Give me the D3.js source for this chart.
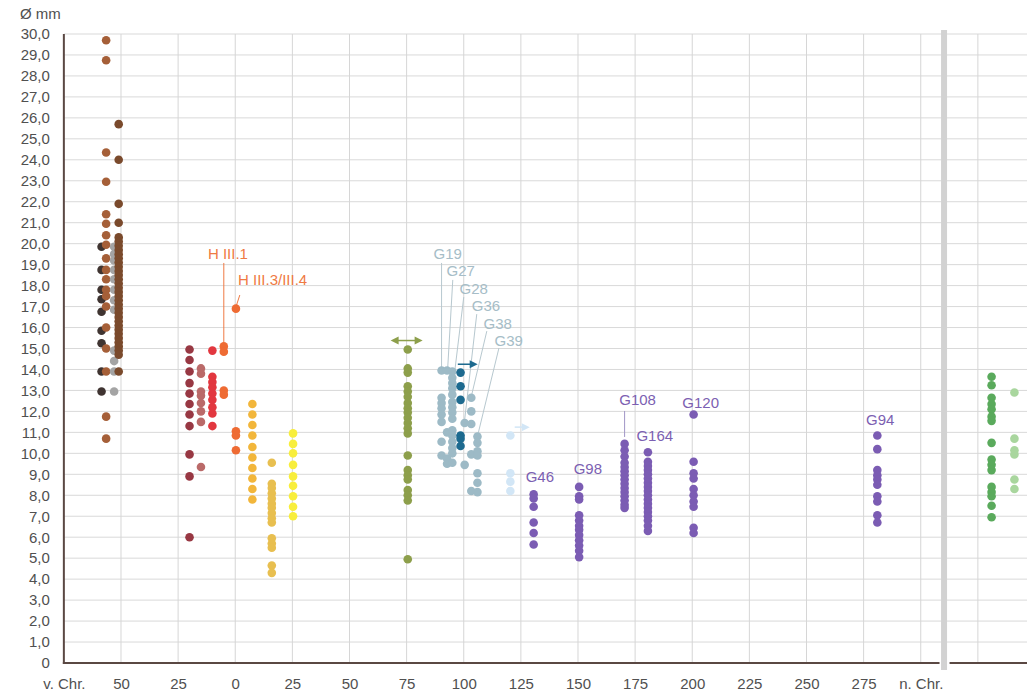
<!DOCTYPE html>
<html>
<head>
<meta charset="utf-8">
<script src="https://cdn.jsdelivr.net/npm/d3@7"></script>
<style>
  html, body { margin: 0; background: #fff; }
  svg { display: block; font-family: "Liberation Sans", Arial, Helvetica, sans-serif; }
</style>
</head>
<body>
<svg id="chart" width="1027" height="694"></svg>
<script>
// ---- Measured diameters (mm), one array per dated find group ----
// Years: negative = v. Chr., positive = n. Chr.
const brownBlack = [19.85, 18.75, 17.8, 17.35, 16.75, 15.85, 15.25, 13.9, 12.95];
const brownPale  = [29.7, 28.75, 24.35, 22.95, 21.4, 20.95, 20.4, 19.95, 19.3, 18.75, 18.3, 17.8, 17.5, 17.0, 16.0, 15.0, 13.9, 11.75, 10.7];
const brownGrey  = [19.85, 19.5, 19.2, 18.75, 18.3, 17.8, 17.3, 16.85, 14.9, 14.4, 13.9, 12.95];
const brownDark  = [25.7, 24.0, 21.9, 21.0, 20.3, 20.1, 19.9, 19.7, 19.5, 19.3, 19.1, 18.9, 18.7, 18.5, 18.3, 18.1, 17.9, 17.7, 17.5, 17.3, 17.1, 16.9, 16.7, 16.5, 16.3, 16.1, 15.9, 15.7, 15.5, 15.3, 15.1, 14.9, 14.7, 13.9];

const redDark    = [14.95, 14.45, 13.9, 13.35, 12.85, 12.35, 11.85, 11.3, 9.95, 8.9, 6.0];
const redPale    = [14.05, 13.8, 12.95, 12.75, 12.4, 12.0, 11.5, 9.35];
const redBright  = [14.9, 13.65, 13.4, 13.15, 12.85, 12.55, 12.2, 11.9, 11.3];
const orangeHIII1 = [15.1, 14.85, 13.0, 12.8];
const orangeHIII3 = [16.9, 11.05, 10.85, 10.15];
const amber      = [12.35, 11.85, 11.35, 10.85, 10.3, 9.8, 9.3, 8.8, 8.3, 7.8];
const mustard    = [9.55, 8.55, 8.35, 8.1, 7.85, 7.6, 7.4, 7.15, 6.9, 6.7, 5.95, 5.7, 5.5, 4.65, 4.3];
const yellow     = [10.95, 10.45, 10.0, 9.45, 8.9, 8.45, 7.95, 7.45, 7.0];

const olive      = [14.95, 14.05, 13.85, 13.2, 12.95, 12.7, 12.4, 12.15, 11.95, 11.7, 11.45, 11.2, 10.95, 9.9, 9.2, 8.95, 8.75, 8.25, 8.0, 7.75, 4.95];

const blueGreyA  = [13.95, 12.65, 12.4, 12.15, 11.85, 11.5, 10.55, 9.9];
const blueGreyB  = [13.95, 11.0, 9.75, 9.5];
const blueGreyC  = [13.9, 13.6, 13.35, 13.1, 12.8, 12.45, 12.2, 11.95, 11.65, 11.1, 10.85, 10.55, 10.25, 10.0, 9.55];
const blueGreyD  = [11.45, 9.45];
const blueGreyE  = [12.65, 12.0, 11.4, 9.95, 8.2];
const blueGreyF  = [10.8, 10.5, 10.1, 9.9, 9.05, 8.6, 8.15];
const blueDark   = [13.85, 13.2, 12.55, 10.85, 10.7, 10.35];
const blueFaint  = [10.85, 9.05, 8.65, 8.2];

const g46  = [8.05, 7.85, 7.45, 6.7, 6.2, 5.65];
const g98  = [8.4, 7.95, 7.8, 7.05, 6.8, 6.55, 6.35, 6.1, 5.85, 5.6, 5.35, 5.05];
const g108 = [10.45, 10.15, 9.85, 9.55, 9.35, 9.15, 8.95, 8.75, 8.55, 8.35, 8.15, 7.95, 7.75, 7.55, 7.4];
const g164 = [10.05, 9.6, 9.4, 9.2, 9.0, 8.8, 8.6, 8.4, 8.2, 8.0, 7.8, 7.6, 7.4, 7.2, 7.0, 6.8, 6.55, 6.3];
const g120 = [11.85, 9.6, 9.05, 8.8, 8.3, 8.0, 7.7, 7.45, 6.45, 6.2];
const g94  = [10.85, 10.2, 9.2, 8.95, 8.75, 8.5, 7.95, 7.7, 7.05, 6.7];

const greenLate  = [13.65, 13.25, 12.65, 12.35, 12.1, 11.75, 11.55, 10.5, 9.7, 9.45, 9.2, 8.4, 8.15, 7.95, 7.5, 6.95];
const greenPale  = [12.9, 10.7, 10.15, 9.95, 8.75, 8.3];

// Dating (year) of each group
const groups = [
  { id: "brownBlack", year: -58.5, values: brownBlack },
  { id: "brownPale",  year: -56.5, values: brownPale },
  { id: "brownGrey",  year: -53,   values: brownGrey },
  { id: "brownDark",  year: -51,   values: brownDark },
  { id: "redDark",    year: -20,   values: redDark },
  { id: "redPale",    year: -15,   values: redPale },
  { id: "redBright",  year: -10,   values: redBright },
  { id: "orange",     year: -5,    values: orangeHIII1 },
  { id: "orange",     year: 0.3,   values: orangeHIII3 },
  { id: "amber",      year: 7.5,   values: amber },
  { id: "mustard",    year: 16,    values: mustard },
  { id: "yellow",     year: 25.3,  values: yellow },
  { id: "olive",      year: 75.5,  values: olive },
  { id: "blueGrey",   year: 90.3,  values: blueGreyA },
  { id: "blueGrey",   year: 92.7,  values: blueGreyB },
  { id: "blueGrey",   year: 95,    values: blueGreyC },
  { id: "blueGrey",   year: 100.4, values: blueGreyD },
  { id: "blueGrey",   year: 103.3, values: blueGreyE },
  { id: "blueGrey",   year: 106,   values: blueGreyF },
  { id: "blueDark",   year: 98.6,  values: blueDark },
  { id: "blueFaint",  year: 120.4, values: blueFaint },
  { id: "purple",     year: 130.6, values: g46 },
  { id: "purple",     year: 150.5, values: g98 },
  { id: "purple",     year: 170.4, values: g108 },
  { id: "purple",     year: 180.6, values: g164 },
  { id: "purple",     year: 200.6, values: g120 },
  { id: "purple",     year: 281,   values: g94 },
  { id: "green",      year: 331,   values: greenLate },
  { id: "greenPale",  year: 341,   values: greenPale }
];

// Axis ticks
const yearTicks = d3.range(-75, 301, 25);
const yearTickLabels = ["v. Chr.", "50", "25", "0", "25", "50", "75", "100", "125", "150", "175", "200", "225", "250", "275", "n. Chr."];
const mmTicks = d3.range(0, 31, 1);
const gridYears = d3.range(-50, 326, 25);
const breakYear = 310.2;

// Group labels
const labels = [
  { text: "H III.1",       year: -3.2,  mm: 19.55, cls: "h",  lead: [[-5, 19.08], [-5, 15.3]] },
  { text: "H III.3/III.4", year: 1.2,   mm: 18.31, cls: "h",  anchor: "start", lead: [[2.0, 17.55], [0.5, 17.05]] },
  { text: "G19",  year: 93.0,  mm: 19.51, cls: "g", lead: [[90.3, 19.08], [90.3, 14.1]] },
  { text: "G27",  year: 98.7,  mm: 18.70, cls: "g", lead: [[95.2, 18.27], [93.0, 14.1]] },
  { text: "G28",  year: 104.4, mm: 17.84, cls: "g", lead: [[100.0, 17.45], [96.1, 13.95]] },
  { text: "G36",  year: 109.7, mm: 17.03, cls: "g", lead: [[105.7, 16.64], [100.4, 11.6]] },
  { text: "G38",  year: 114.9, mm: 16.17, cls: "g", lead: [[110.1, 15.83], [103.5, 12.8]] },
  { text: "G39",  year: 119.7, mm: 15.36, cls: "g", lead: [[115.4, 15.02], [106.2, 10.9]] },
  { text: "G46",  year: 133.3, mm: 8.87,  cls: "p" },
  { text: "G98",  year: 154.3, mm: 9.25,  cls: "p" },
  { text: "G108", year: 176.1, mm: 12.54, cls: "p", lead: [[170.4, 12.02], [170.4, 10.78]] },
  { text: "G164", year: 183.6, mm: 10.83, cls: "p" },
  { text: "G120", year: 203.7, mm: 12.40, cls: "p" },
  { text: "G94",  year: 282.3, mm: 11.59, cls: "p" }
];

// Dating-range arrows
const arrows = [
  { from: 68,    to: 82,    mm: 15.38, cls: "olive",     both: true },
  { from: 97.4,  to: 106.1, mm: 14.25, cls: "blueDark",  both: false },
  { from: 122.3, to: 128.9, mm: 11.25, cls: "blueFaint", both: false }
];

// ---- Styles ----
const dotColor = {
  brownBlack: "#3f3431", brownPale: "#a55f38", brownGrey: "#a4a4a4", brownDark: "#7a4a2c",
  redDark: "#983843", redPale: "#ba6a69", redBright: "#e2373f", orange: "#ee6b33",
  amber: "#f2b63b", mustard: "#e8bf50", yellow: "#f8ee3c", olive: "#8d9f4b",
  blueGrey: "#9dbac6", blueDark: "#1d6a8f", blueFaint: "#d2e6f6", purple: "#7b5cb3",
  green: "#5aaa5c", greenPale: "#a9d69e"
};
const labelColor = { h: "#ef7a43", g: "#a6bdc7", p: "#7c5fb2" };
const leadColor  = { h: "#ef7a43", g: "#b7c8cf", p: "#a195c6" };

// ---- Layout ----
const svg = d3.select("#chart");
const x = d3.scaleLinear().domain([-75, 346.5]).range([63.86, 1027]);
const y = d3.scaleLinear().domain([0, 30]).range([663, 34]);

// grid
const grid = svg.append("g");
grid.selectAll("line.h").data(mmTicks.filter(d => d > 0)).join("line")
  .attr("x1", x(-75)).attr("x2", 1027)
  .attr("y1", d => y(d)).attr("y2", d => y(d))
  .attr("stroke", "#d9d9d9").attr("stroke-width", 1);
grid.selectAll("line.v").data(gridYears).join("line")
  .attr("x1", d => x(d)).attr("x2", d => x(d))
  .attr("y1", y(30)).attr("y2", y(0))
  .attr("stroke", "#d6d6d6").attr("stroke-width", 1);

// break bar
svg.append("rect")
  .attr("x", x(breakYear) - 3).attr("width", 6)
  .attr("y", y(30) - 4).attr("height", y(0) - y(30) + 11)
  .attr("fill", "#d2d2d2");

// axis lines
const axisColor = "#5a4843";
svg.append("line").attr("x1", x(-75)).attr("x2", x(-75))
  .attr("y1", y(30)).attr("y2", y(0) + 1)
  .attr("stroke", axisColor).attr("stroke-width", 2);
svg.append("line").attr("x1", x(-75) - 1).attr("x2", x(breakYear) - 4.5)
  .attr("y1", y(0)).attr("y2", y(0))
  .attr("stroke", axisColor).attr("stroke-width", 2);
svg.append("line").attr("x1", x(breakYear) + 5.5).attr("x2", 1027)
  .attr("y1", y(0)).attr("y2", y(0))
  .attr("stroke", axisColor).attr("stroke-width", 2);

// y axis labels
const yAxis = d3.axisLeft(y).tickValues(mmTicks).tickSize(0).tickPadding(14)
  .tickFormat(d => d === 0 ? "0" : d3.format(".1f")(d).replace(".", ","));
const gy = svg.append("g").attr("transform", `translate(${x(-75)},0)`).call(yAxis);
gy.select(".domain").remove();
gy.selectAll("text").attr("font-size", 15).attr("fill", "#505050")
  .attr("font-family", "'Liberation Sans', Arial, sans-serif");

// x axis labels
const xAxis = d3.axisBottom(x).tickValues(yearTicks).tickSize(0).tickPadding(15)
  .tickFormat((d, i) => yearTickLabels[i]);
const gx = svg.append("g").attr("transform", `translate(0,${y(0)})`).call(xAxis);
gx.select(".domain").remove();
gx.selectAll("text").attr("font-size", 15).attr("fill", "#505050")
  .attr("font-family", "'Liberation Sans', Arial, sans-serif");

// unit label
svg.append("text").attr("x", 20).attr("y", 19)
  .attr("font-size", 15).attr("fill", "#505050").text("Ø mm");

// leader lines
svg.append("g").selectAll("line").data(labels.filter(d => d.lead)).join("line")
  .attr("x1", d => x(d.lead[0][0])).attr("y1", d => y(d.lead[0][1]))
  .attr("x2", d => x(d.lead[1][0])).attr("y2", d => y(d.lead[1][1]))
  .attr("stroke", d => leadColor[d.cls]).attr("stroke-width", 1);

// dots
const dots = groups.flatMap(g => g.values.map(v => ({ id: g.id, year: g.year, mm: v })));
svg.append("g").selectAll("circle").data(dots).join("circle")
  .attr("cx", d => x(d.year)).attr("cy", d => y(d.mm)).attr("r", 4.3)
  .attr("fill", d => dotColor[d.id]);

// arrows
const ag = svg.append("g");
arrows.forEach(a => {
  const c = dotColor[a.cls];
  const yy = y(a.mm);
  ag.append("line").attr("x1", x(a.from) + (a.both ? 4 : 0)).attr("x2", x(a.to) - 4)
    .attr("y1", yy).attr("y2", yy).attr("stroke", c).attr("stroke-width", 1.5);
  const head = (tip, dir) => {
    const xt = x(tip);
    ag.append("path")
      .attr("d", `M${xt},${yy} L${xt - dir * 8},${yy - 4} L${xt - dir * 8},${yy + 4} Z`)
      .attr("fill", c);
  };
  head(a.to, 1);
  if (a.both) head(a.from, -1);
});

// group labels
svg.append("g").selectAll("text").data(labels).join("text")
  .attr("x", d => x(d.year)).attr("y", d => y(d.mm))
  .attr("dy", "0.36em")
  .attr("text-anchor", d => d.anchor || "middle")
  .attr("font-size", 15)
  .attr("fill", d => labelColor[d.cls])
  .text(d => d.text);
</script>
</body>
</html>
